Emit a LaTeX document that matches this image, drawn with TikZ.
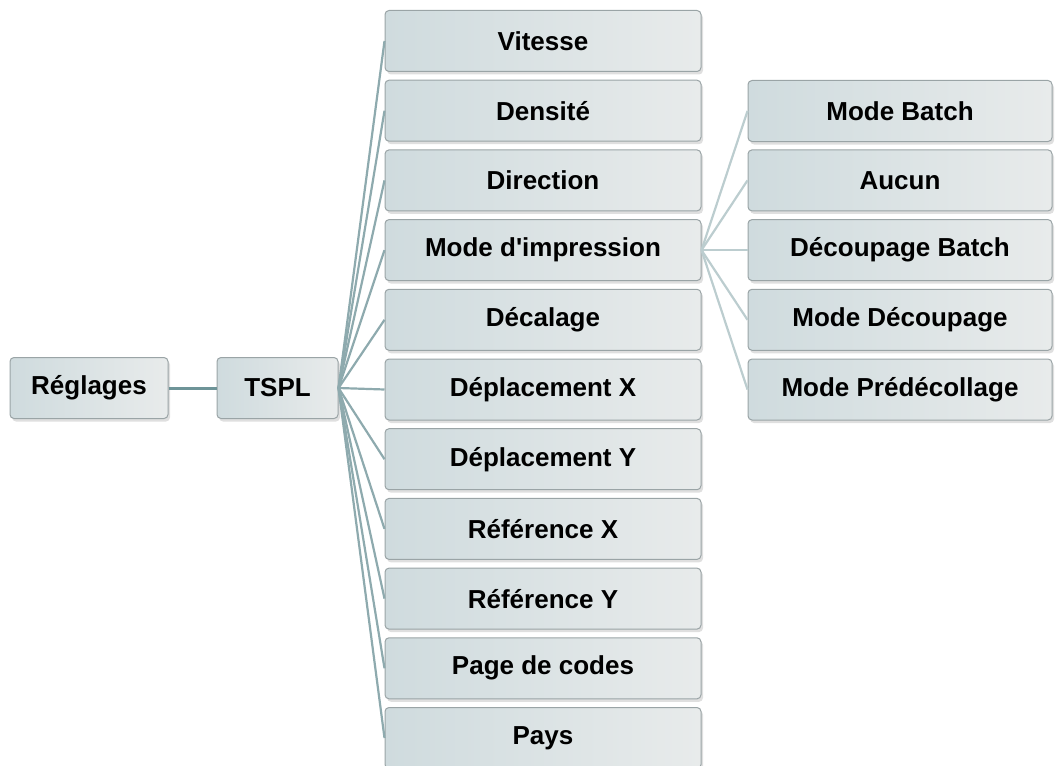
\documentclass[tikz,border=0pt]{standalone}
\usepackage{fontspec}
\setmainfont{Liberation Sans}[Ligatures=TeXOff]
\usetikzlibrary{shadows}
\definecolor{boxline}{HTML}{9AA4A6}
\definecolor{boxleft}{HTML}{CFDBDE}
\definecolor{boxright}{HTML}{E8EBEB}
\definecolor{linkA}{HTML}{6E9498}
\definecolor{linkB}{HTML}{8EAAAE}
\definecolor{linkC}{HTML}{BCCDCF}
\tikzset{
  box/.style={draw=boxline, line width=1pt, rounded corners=4pt,
    left color=boxleft, right color=boxright,
    drop shadow={opacity=0.25, shadow xshift=2pt, shadow yshift=-3pt},
    minimum height=61pt, inner sep=0pt,
    font=\fontsize{26}{29}\selectfont\bfseries, text=black},
  lvlone/.style={box, minimum width=158pt},
  lvltsp/.style={box, minimum width=121pt},
  lvltwo/.style={box, minimum width=316pt},
  lvlthree/.style={box, minimum width=304pt},
  linkone/.style={draw=linkA, line width=3pt},
  linktwo/.style={draw=linkB, line width=2.2pt},
  linkthree/.style={draw=linkC, line width=2.2pt},
}
\begin{document}
\begin{tikzpicture}[x=1pt,y=-1pt]
\useasboundingbox (0,0) rectangle (1056,765);
\node[lvlone] (regl) at (89,388) {Réglages};
\node[lvltsp] (tspl) at (277.5,388) {TSPL};
\foreach \n/\t/\y in {a/Vitesse/41, b/Densité/110.7, c/Direction/180.4,
  d/Mode d'impression/250.1, e/Décalage/319.8, f/Déplacement X/389.5,
  g/Déplacement Y/459.2, h/Référence X/528.9, i/Référence Y/598.6,
  j/Page de codes/668.3, k/Pays/738}
  \node[lvltwo] (\n) at (543,\y) {\t};
\foreach \n/\t/\y in {m1/Mode Batch/111, m2/Aucun/180.4, m3/Découpage Batch/250.1,
  m4/Mode Découpage/319.8, m5/Mode Prédécollage/389.5}
  \node[lvlthree] (\n) at (900,\y) {\t};
\draw[linkone] (regl.east) -- (tspl.west);
\foreach \n in {a,b,c,d,e,f,g,h,i,j,k}
  \draw[linktwo] (tspl.east) -- (\n.west);
\foreach \n in {m1,m2,m3,m4,m5}
  \draw[linkthree] (d.east) -- (\n.west);
\end{tikzpicture}
\end{document}
